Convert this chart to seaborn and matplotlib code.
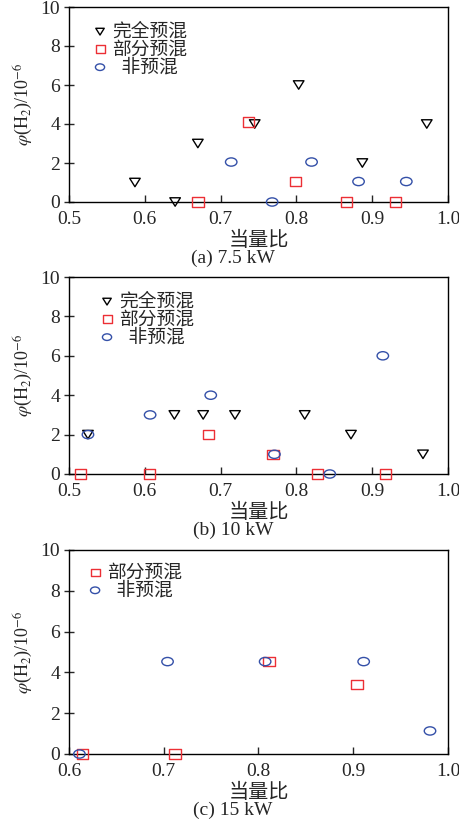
import numpy as np
import pandas as pd
import seaborn as sns
import matplotlib.pyplot as plt
from matplotlib.path import Path
from matplotlib.transforms import Affine2D

# equivalence ratio / H2 volume fraction (10^-6)
# (a) 7.5 kW
a_full_x = [0.587, 0.640, 0.670, 0.745, 0.803, 0.887, 0.972]
a_full_y = [1.0, 0.0, 3.0, 4.0, 6.0, 2.0, 4.0]
a_part_x = [0.670, 0.737, 0.799, 0.866, 0.931]
a_part_y = [0.0, 4.1, 1.05, 0.0, 0.0]
a_non_x = [0.714, 0.768, 0.820, 0.882, 0.945]
a_non_y = [2.05, 0.0, 2.05, 1.05, 1.05]

# (b) 10 kW
b_full_x = [0.525, 0.639, 0.677, 0.719, 0.811, 0.872, 0.967]
b_full_y = [2.0, 3.0, 3.0, 3.0, 3.0, 2.0, 1.0]
b_part_x = [0.515, 0.606, 0.684, 0.769, 0.828, 0.918]
b_part_y = [0.0, 0.0, 2.0, 1.0, 0.0, 0.0]
b_non_x = [0.525, 0.607, 0.687, 0.771, 0.844, 0.914]
b_non_y = [2.0, 3.0, 4.0, 1.0, 0.0, 6.0]

# (c) 15 kW
c_part_x = [0.614, 0.712, 0.811, 0.904]
c_part_y = [0.0, 0.0, 4.53, 3.42]
c_non_x = [0.611, 0.704, 0.807, 0.911, 0.981]
c_non_y = [0.0, 4.53, 4.53, 4.53, 1.13]

labels = ['完全预混', '部分预混', '  非预混']
captions = ['(a) 7.5 kW', '(b) 10 kW', '(c) 15 kW']
xlims = [(0.5, 1.0), (0.5, 1.0), (0.6, 1.0)]

sns.set_theme(style='ticks')
plt.rcParams['font.family'] = ['Liberation Serif', 'Noto Sans CJK SC']
plt.rcParams['mathtext.fontset'] = 'stix'

red = '#ec2f35'
blue = '#3450a8'

# slightly squashed marker shapes, like in the scanned figure
ell = Path.unit_circle().transformed(Affine2D().scale(1.0, 0.72))
box = Path([(-1, -0.82), (1, -0.82), (1, 0.82), (-1, 0.82), (-1, -0.82)],
           [Path.MOVETO, Path.LINETO, Path.LINETO, Path.LINETO, Path.CLOSEPOLY])
tri = Path([(-1, 0.8), (1, 0.8), (0, -0.8), (-1, 0.8)],
           [Path.MOVETO, Path.LINETO, Path.LINETO, Path.CLOSEPOLY])

styles = [dict(marker=tri, color='black', s=58),
          dict(marker=box, color=red, s=66),
          dict(marker=ell, color=blue, s=68)]

panels = [
    [(a_full_x, a_full_y), (a_part_x, a_part_y), (a_non_x, a_non_y)],
    [(b_full_x, b_full_y), (b_part_x, b_part_y), (b_non_x, b_non_y)],
    [None, (c_part_x, c_part_y), (c_non_x, c_non_y)],
]

W, H = 459, 823
# axes boxes in pixels: left, top, right, bottom
boxes = [(69, 7, 448, 202), (69, 277, 448, 474), (69, 550, 448, 754)]
legend_pos = [(0.067, 0.918), (0.0855, 0.919), (0.054, 0.931)]

fig = plt.figure(figsize=(W / 100, H / 100), dpi=100)

for i, (series, bx) in enumerate(zip(panels, boxes)):
    l, t, r, b = bx
    ax = fig.add_axes([l / W, 1 - b / H, (r - l) / W, (b - t) / H])
    for j, ser in enumerate(series):
        if ser is None:
            continue
        df = pd.DataFrame({'x': ser[0], 'y': ser[1]})
        st = styles[j]
        sns.scatterplot(data=df, x='x', y='y', ax=ax, marker=st['marker'],
                        s=st['s'], color=st['color'], facecolors='none',
                        edgecolor=st['color'], linewidth=1.0, label=labels[j],
                        clip_on=False, zorder=3)
    ax.set_xlim(*xlims[i])
    ax.set_ylim(0, 10)
    ax.set_xticks(np.arange(xlims[i][0], xlims[i][1] + 0.001, 0.1))
    ax.set_yticks(np.arange(0, 10.1, 2))
    ax.xaxis.set_major_formatter(plt.FormatStrFormatter('%.1f'))
    ax.tick_params(axis='x', direction='in', length=5, width=1, labelsize=14, pad=6.5)
    ax.tick_params(axis='y', direction='inout', length=7, width=1, labelsize=14, pad=3)
    for sp in ax.spines.values():
        sp.set_linewidth(1.0)
        sp.set_color('black')
    ax.set_xlabel('当量比', fontsize=14.5, labelpad=3)
    ax.set_ylabel(r'$\varphi$(H$_2$)/10$^{-6}$', fontsize=13, labelpad=4)
    ax.legend(loc='upper left', bbox_to_anchor=legend_pos[i], frameon=False,
              fontsize=13.5, handlelength=0.6, handletextpad=0.35,
              labelspacing=0.02, borderpad=0, borderaxespad=0,
              markerscale=0.8)
    fig.text(233 / W, 1 - (b + 56) / H, captions[i], fontsize=14,
             ha='center', va='center')

fig.savefig('out.png', dpi=100)
